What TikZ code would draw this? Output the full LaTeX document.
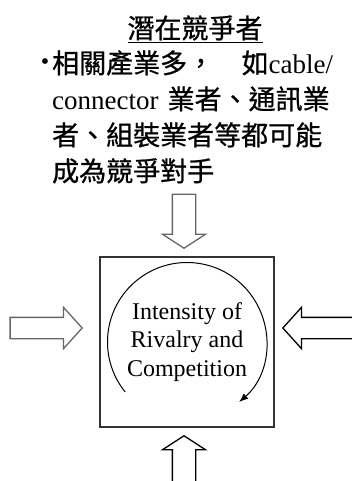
\documentclass[tikz,border=0pt]{standalone}
\usepackage{fontspec}
\setmainfont{Liberation Serif}
\newfontfamily\cjk{Noto Sans CJK TC}[FakeBold=0.8]
\usetikzlibrary{shapes.arrows,arrows.meta}

\begin{document}
\begin{tikzpicture}[x=1pt,y=1pt,
	bigarrow/.style={single arrow,draw,line width=1.3pt,inner sep=10pt,
		single arrow head extend=10pt,single arrow head indent=0pt,
		single arrow tip angle=96,minimum width=0pt},
	vertarrow/.style={bigarrow,inner sep=11pt,single arrow tip angle=114},
	rivalbox/.style={draw=black!80,line width=1.3pt,minimum width=174pt,
		minimum height=170pt,align=center,font=\fontsize{24}{28.5}\selectfont}]
\useasboundingbox (0,0) rectangle (352,-481);
\node (title) at (195,-29) {\fontsize{27}{30}\cjk\underline{潛在競爭者}};
\node[anchor=north west,inner sep=0pt,text width=281pt,align=left,
	font=\fontsize{27}{36}\selectfont] (entrants) at (52,-50)
	{\llap{\raisebox{4pt}{\fontsize{24}{24}\selectfont •}\hspace{3pt}}{\cjk 相關產業多，}\hfill{\cjk 如}cable/\\
	connector {\cjk 業者、通訊業}\\
	{\cjk 者、組裝業者等都可能}\\
	{\cjk 成為競爭對手}};
\node[rivalbox] (rival) at (187,-342) {Intensity of\\Rivalry and\\Competition};
\draw[-{Latex[length=9pt,width=7pt]},line width=1pt] ([shift={(219:79.5)}]rival.center)
	arc[start angle=219,end angle=-49,radius=79.5];
% forces from the four sides
\node[vertarrow,draw=black!60,shape border rotate=270,minimum height=54pt,anchor=tip] (entry) at (184,-249) {};
\node[bigarrow,draw=black!60,shape border rotate=0,minimum height=72pt,anchor=tip] (west) at (83,-328) {};
\node[bigarrow,shape border rotate=180,minimum height=80pt,anchor=tip] (east) at (282,-328) {};
\node[vertarrow,shape border rotate=90,minimum height=60pt,anchor=tip] (south) at (184,-435) {};
\end{tikzpicture}
\end{document}
